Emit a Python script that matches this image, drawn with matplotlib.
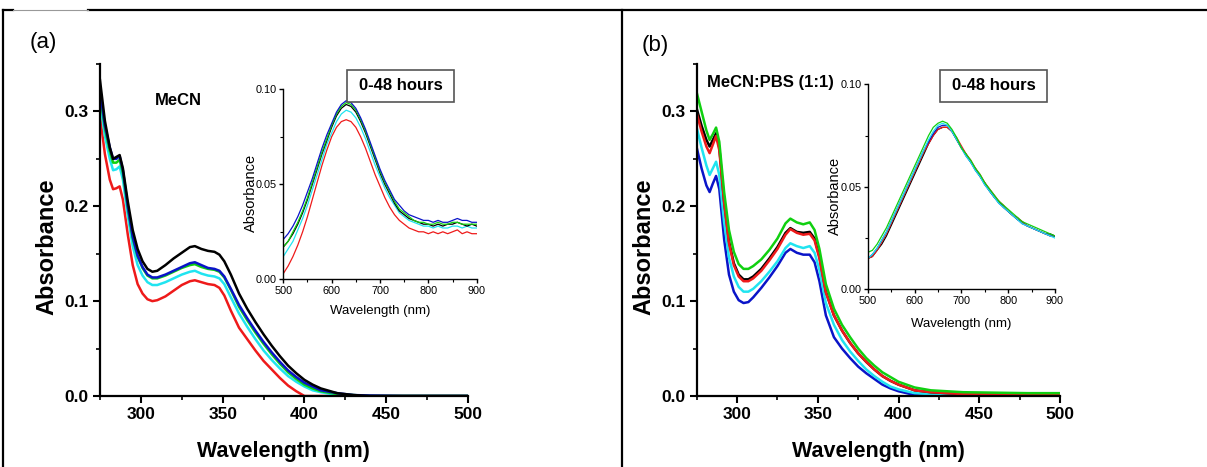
import matplotlib
matplotlib.use('Agg')
import matplotlib.pyplot as plt
from matplotlib.lines import Line2D
from matplotlib.patches import Rectangle
from matplotlib.ticker import MultipleLocator

plt.rcParams['font.family'] = ['Liberation Sans', 'DejaVu Sans']

### main spectra (nm) ###
wl = [275, 278, 281, 283, 285, 287, 289, 292, 295, 298, 301, 304, 307, 310, 315, 320,
      325, 330, 333, 337, 341, 345, 348, 351, 355, 360, 365, 370, 375, 380, 385, 390,
      395, 400, 405, 410, 420, 430, 440, 460, 480, 500]

# (a) MeCN
a_black = [0.333, 0.290, 0.262, 0.250, 0.252, 0.254, 0.240, 0.205, 0.175, 0.155, 0.142, 0.134,
           0.131, 0.132, 0.138, 0.145, 0.151, 0.157, 0.158, 0.155, 0.153, 0.152, 0.149, 0.142,
           0.128, 0.108, 0.092, 0.078, 0.065, 0.053, 0.042, 0.032, 0.024, 0.017, 0.012, 0.008,
           0.003, 0.001, 0.0, 0.0, 0.0, 0.0]
a_blue = [0.322, 0.285, 0.262, 0.250, 0.250, 0.253, 0.238, 0.200, 0.168, 0.148, 0.136, 0.128,
          0.125, 0.125, 0.128, 0.132, 0.136, 0.140, 0.141, 0.138, 0.135, 0.134, 0.132, 0.126,
          0.113, 0.096, 0.082, 0.069, 0.057, 0.046, 0.036, 0.027, 0.020, 0.014, 0.010, 0.006,
          0.003, 0.001, 0.0005, 0.0, 0.0, 0.0]
a_green = [0.318, 0.282, 0.258, 0.246, 0.246, 0.249, 0.235, 0.198, 0.166, 0.147, 0.135, 0.127,
           0.124, 0.124, 0.127, 0.131, 0.135, 0.138, 0.139, 0.136, 0.134, 0.133, 0.131, 0.125,
           0.112, 0.094, 0.080, 0.067, 0.055, 0.044, 0.034, 0.025, 0.018, 0.012, 0.008, 0.005,
           0.002, 0.001, 0.0, 0.0, 0.0, 0.0]
a_cyan = [0.310, 0.274, 0.250, 0.238, 0.239, 0.242, 0.228, 0.190, 0.158, 0.138, 0.127, 0.120,
          0.117, 0.117, 0.120, 0.124, 0.128, 0.131, 0.132, 0.129, 0.127, 0.126, 0.124, 0.118,
          0.104, 0.087, 0.073, 0.060, 0.048, 0.038, 0.029, 0.021, 0.015, 0.010, 0.006, 0.004,
          0.001, 0.0, 0.0, 0.0, 0.0, 0.0]
a_red = [0.295, 0.255, 0.228, 0.218, 0.219, 0.221, 0.207, 0.170, 0.138, 0.118, 0.108, 0.102,
         0.100, 0.101, 0.105, 0.111, 0.117, 0.121, 0.122, 0.120, 0.118, 0.117, 0.114, 0.106,
         0.090, 0.072, 0.060, 0.048, 0.037, 0.028, 0.019, 0.011, 0.005, 0.0, 0.0, 0.0,
         0.0, 0.0, 0.0, 0.0, 0.0, 0.0]

# (b) MeCN:PBS
b_green = [0.320, 0.300, 0.280, 0.270, 0.276, 0.283, 0.268, 0.215, 0.175, 0.152, 0.139, 0.134,
           0.134, 0.137, 0.144, 0.154, 0.166, 0.182, 0.187, 0.183, 0.181, 0.183, 0.175, 0.155,
           0.118, 0.092, 0.075, 0.062, 0.050, 0.040, 0.032, 0.025, 0.020, 0.015, 0.012, 0.009,
           0.006, 0.005, 0.004, 0.0035, 0.003, 0.003]
b_black = [0.303, 0.285, 0.270, 0.263, 0.270, 0.277, 0.262, 0.205, 0.163, 0.140, 0.128, 0.123,
           0.123, 0.126, 0.134, 0.145, 0.157, 0.172, 0.177, 0.173, 0.172, 0.173, 0.166, 0.147,
           0.110, 0.085, 0.069, 0.056, 0.045, 0.036, 0.028, 0.021, 0.016, 0.012, 0.009, 0.006,
           0.004, 0.003, 0.002, 0.002, 0.002, 0.002]
b_red = [0.298, 0.279, 0.263, 0.256, 0.265, 0.274, 0.259, 0.203, 0.161, 0.138, 0.126, 0.121,
         0.121, 0.124, 0.132, 0.143, 0.155, 0.170, 0.176, 0.172, 0.170, 0.171, 0.164, 0.145,
         0.109, 0.085, 0.069, 0.056, 0.045, 0.036, 0.028, 0.021, 0.016, 0.012, 0.009, 0.006,
         0.004, 0.003, 0.002, 0.002, 0.002, 0.002]
b_cyan = [0.283, 0.262, 0.243, 0.233, 0.240, 0.247, 0.233, 0.183, 0.146, 0.126, 0.115, 0.110,
          0.110, 0.113, 0.121, 0.131, 0.142, 0.156, 0.161, 0.158, 0.156, 0.158, 0.151, 0.133,
          0.098, 0.075, 0.059, 0.047, 0.037, 0.028, 0.021, 0.015, 0.010, 0.007, 0.005, 0.003,
          0.002, 0.001, 0.001, 0.001, 0.001, 0.001]
b_blue = [0.262, 0.240, 0.222, 0.215, 0.224, 0.232, 0.218, 0.165, 0.128, 0.110, 0.101, 0.098,
          0.099, 0.104, 0.114, 0.125, 0.137, 0.151, 0.155, 0.151, 0.149, 0.149, 0.141, 0.121,
          0.085, 0.062, 0.050, 0.040, 0.031, 0.024, 0.018, 0.012, 0.008, 0.005, 0.003, 0.001,
          0.0, 0.0, 0.0, 0.0, 0.0, 0.0]

### inset spectra (nm) ###
wl_in = [500, 510, 520, 530, 540, 550, 560, 570, 580, 590, 600, 610, 620, 630, 640, 650, 660,
         670, 680, 690, 700, 710, 720, 730, 740, 750, 760, 770, 780, 790, 800, 810, 820, 830,
         840, 850, 860, 870, 880, 890, 900]

ia_blue = [0.021, 0.024, 0.028, 0.033, 0.039, 0.046, 0.053, 0.061, 0.069, 0.076, 0.082, 0.088,
           0.092, 0.094, 0.093, 0.090, 0.085, 0.079, 0.072, 0.065, 0.058, 0.052, 0.047, 0.042,
           0.039, 0.036, 0.034, 0.033, 0.032, 0.031, 0.031, 0.030, 0.031, 0.030, 0.030, 0.031,
           0.032, 0.031, 0.031, 0.030, 0.030]
ia_green = [0.017, 0.020, 0.025, 0.030, 0.036, 0.043, 0.051, 0.059, 0.067, 0.074, 0.081, 0.087,
            0.091, 0.093, 0.092, 0.089, 0.084, 0.078, 0.071, 0.064, 0.057, 0.051, 0.046, 0.041,
            0.037, 0.035, 0.033, 0.031, 0.030, 0.030, 0.029, 0.029, 0.030, 0.029, 0.029, 0.030,
            0.030, 0.029, 0.029, 0.029, 0.029]
ia_black = [0.017, 0.020, 0.024, 0.029, 0.035, 0.042, 0.050, 0.058, 0.066, 0.073, 0.080, 0.086,
            0.090, 0.092, 0.091, 0.088, 0.083, 0.077, 0.070, 0.063, 0.056, 0.050, 0.045, 0.040,
            0.036, 0.034, 0.032, 0.031, 0.030, 0.029, 0.029, 0.028, 0.029, 0.028, 0.029, 0.029,
            0.030, 0.029, 0.028, 0.029, 0.028]
ia_cyan = [0.012, 0.016, 0.020, 0.026, 0.032, 0.039, 0.047, 0.055, 0.063, 0.071, 0.077, 0.083,
           0.087, 0.089, 0.088, 0.085, 0.080, 0.074, 0.067, 0.060, 0.054, 0.048, 0.043, 0.039,
           0.035, 0.033, 0.031, 0.030, 0.029, 0.028, 0.028, 0.027, 0.028, 0.027, 0.027, 0.028,
           0.028, 0.027, 0.028, 0.027, 0.027]
ia_red = [0.003, 0.007, 0.012, 0.018, 0.025, 0.033, 0.042, 0.051, 0.060, 0.068, 0.075, 0.080,
          0.083, 0.084, 0.083, 0.080, 0.075, 0.069, 0.062, 0.055, 0.049, 0.043, 0.038, 0.034,
          0.031, 0.029, 0.027, 0.026, 0.025, 0.025, 0.024, 0.025, 0.024, 0.025, 0.024, 0.025,
          0.026, 0.024, 0.025, 0.024, 0.024]

ib_green = [0.018, 0.019, 0.022, 0.026, 0.030, 0.035, 0.040, 0.045, 0.050, 0.055, 0.060, 0.065,
            0.070, 0.075, 0.079, 0.081, 0.082, 0.081, 0.078, 0.074, 0.069, 0.066, 0.063, 0.059,
            0.056, 0.052, 0.049, 0.046, 0.043, 0.041, 0.039, 0.037, 0.035, 0.033, 0.032, 0.031,
            0.030, 0.029, 0.028, 0.027, 0.026]
ib_black = [0.015, 0.016, 0.019, 0.022, 0.026, 0.031, 0.036, 0.041, 0.046, 0.051, 0.056, 0.061,
            0.066, 0.071, 0.075, 0.078, 0.079, 0.079, 0.077, 0.073, 0.069, 0.066, 0.062, 0.059,
            0.055, 0.052, 0.048, 0.045, 0.043, 0.040, 0.038, 0.036, 0.034, 0.033, 0.031, 0.030,
            0.029, 0.028, 0.027, 0.027, 0.026]
ib_red = [0.015, 0.016, 0.019, 0.023, 0.027, 0.032, 0.037, 0.042, 0.047, 0.052, 0.057, 0.062,
          0.067, 0.071, 0.075, 0.078, 0.079, 0.079, 0.077, 0.074, 0.070, 0.066, 0.063, 0.059,
          0.056, 0.052, 0.049, 0.046, 0.043, 0.041, 0.038, 0.036, 0.035, 0.033, 0.031, 0.030,
          0.029, 0.028, 0.027, 0.026, 0.026]
ib_cyan = [0.015, 0.017, 0.020, 0.024, 0.028, 0.033, 0.038, 0.043, 0.048, 0.053, 0.058, 0.063,
           0.068, 0.073, 0.077, 0.080, 0.081, 0.080, 0.077, 0.073, 0.069, 0.065, 0.062, 0.058,
           0.055, 0.051, 0.048, 0.045, 0.042, 0.040, 0.038, 0.036, 0.034, 0.032, 0.031, 0.030,
           0.029, 0.028, 0.027, 0.026, 0.025]
ib_blue = [0.015, 0.017, 0.020, 0.024, 0.028, 0.033, 0.038, 0.043, 0.048, 0.053, 0.058, 0.063,
           0.068, 0.072, 0.076, 0.079, 0.080, 0.080, 0.077, 0.073, 0.069, 0.065, 0.062, 0.058,
           0.055, 0.051, 0.048, 0.045, 0.042, 0.040, 0.038, 0.036, 0.034, 0.032, 0.031, 0.030,
           0.029, 0.028, 0.027, 0.026, 0.026]

C_BLACK = '#000000'
C_BLUE = '#0a14c8'
C_GREEN = '#10d010'
C_CYAN = '#20e4f0'
C_RED = '#ee1a1a'

W, H = 1207, 467
fig = plt.figure(figsize=(W / 100, H / 100), dpi=100)


def fx(px):
    return px / W


def fy(py):
    return 1 - py / H


def style_main(ax):
    for s in ['top', 'right']:
        ax.spines[s].set_visible(False)
    for s in ['left', 'bottom']:
        ax.spines[s].set_linewidth(1.6)
    ax.set_xlim(275, 500)
    ax.set_ylim(0, 0.35)
    ax.xaxis.set_major_locator(MultipleLocator(50))
    ax.xaxis.set_minor_locator(MultipleLocator(25))
    ax.yaxis.set_major_locator(MultipleLocator(0.1))
    ax.yaxis.set_minor_locator(MultipleLocator(0.05))
    ax.tick_params(which='major', direction='out', length=5, width=1.5, labelsize=12.5, pad=3)
    ax.tick_params(which='minor', direction='out', length=3, width=1.2)
    ax.set_yticks([0.0, 0.1, 0.2, 0.3])
    ax.set_yticklabels(['0.0', '0.1', '0.2', '0.3'])
    for t in ax.get_xticklabels() + ax.get_yticklabels():
        t.set_fontweight('bold')


def style_inset(ax):
    for s in ['top', 'right']:
        ax.spines[s].set_visible(False)
    for s in ['left', 'bottom']:
        ax.spines[s].set_linewidth(1.0)
    ax.set_xlim(500, 900)
    ax.set_ylim(0, 0.10)
    ax.xaxis.set_major_locator(MultipleLocator(100))
    ax.xaxis.set_minor_locator(MultipleLocator(50))
    ax.set_yticks([0.0, 0.05, 0.10])
    ax.set_yticklabels(['0.00', '0.05', '0.10'])
    ax.yaxis.set_minor_locator(MultipleLocator(0.025))
    ax.tick_params(which='major', direction='out', length=3, width=1.0, labelsize=7.8, pad=1.5)
    ax.tick_params(which='minor', direction='out', length=2, width=0.8)


### panel (a) ###
ax1 = fig.add_axes([fx(100), fy(396), fx(468) - fx(100), fy(64) - fy(396)])
ax1.plot(wl, a_red, color=C_RED, lw=1.8)
ax1.plot(wl, a_cyan, color=C_CYAN, lw=1.8)
ax1.plot(wl, a_green, color=C_GREEN, lw=1.8)
ax1.plot(wl, a_blue, color=C_BLUE, lw=1.8)
ax1.plot(wl, a_black, color=C_BLACK, lw=1.8)
style_main(ax1)

ins1 = fig.add_axes([fx(283.3), fy(279.3), fx(476.7) - fx(283.3), fy(89.3) - fy(279.3)])
ins1.plot(wl_in, ia_red, color=C_RED, lw=0.9)
ins1.plot(wl_in, ia_cyan, color=C_CYAN, lw=0.9)
ins1.plot(wl_in, ia_black, color=C_BLACK, lw=0.9)
ins1.plot(wl_in, ia_green, color=C_GREEN, lw=0.9)
ins1.plot(wl_in, ia_blue, color=C_BLUE, lw=0.9)
style_inset(ins1)

### panel (b) ###
ax2 = fig.add_axes([fx(696.7), fy(396), fx(1060) - fx(696.7), fy(64) - fy(396)])
ax2.plot(wl, b_blue, color=C_BLUE, lw=1.8)
ax2.plot(wl, b_cyan, color=C_CYAN, lw=1.8)
ax2.plot(wl, b_black, color=C_BLACK, lw=1.8)
ax2.plot(wl, b_red, color=C_RED, lw=1.8)
ax2.plot(wl, b_green, color=C_GREEN, lw=1.8)
style_main(ax2)

ins2 = fig.add_axes([fx(867.7), fy(289.3), fx(1055) - fx(867.7), fy(84.3) - fy(289.3)])
ins2.plot(wl_in, ib_black, color=C_BLACK, lw=0.9)
ins2.plot(wl_in, ib_red, color=C_RED, lw=0.9)
ins2.plot(wl_in, ib_blue, color=C_BLUE, lw=0.9)
ins2.plot(wl_in, ib_cyan, color=C_CYAN, lw=0.9)
ins2.plot(wl_in, ib_green, color=C_GREEN, lw=0.9)
style_inset(ins2)

### texts ###
fig.text(fx(43.5), fy(42.5), '(a)', fontsize=16, ha='center', va='center')
fig.text(fx(655), fy(45), '(b)', fontsize=16, ha='center', va='center')
fig.text(fx(178), fy(100), 'MeCN', fontsize=12, fontweight='bold', ha='center', va='center')
fig.text(fx(770), fy(82), 'MeCN:PBS (1:1)', fontsize=12, fontweight='bold', ha='center', va='center')

for x0, x1 in [(347, 454), (940, 1047)]:
    fig.add_artist(Rectangle((fx(x0), fy(102)), fx(x1) - fx(x0), fy(70) - fy(102),
                             transform=fig.transFigure, facecolor='white',
                             edgecolor='#555555', lw=1.2))
    fig.text(fx((x0 + x1) / 2), fy(86), '0-48 hours', fontsize=12, fontweight='bold',
             ha='center', va='center')

fig.text(fx(47), fy(246.5), 'Absorbance', fontsize=17, fontweight='bold', rotation=90,
         ha='center', va='center')
fig.text(fx(643.5), fy(246.5), 'Absorbance', fontsize=17, fontweight='bold', rotation=90,
         ha='center', va='center')
fig.text(fx(283), fy(452), 'Wavelength (nm)', fontsize=15.5, fontweight='bold',
         ha='center', va='center')
fig.text(fx(878), fy(452), 'Wavelength (nm)', fontsize=15.5, fontweight='bold',
         ha='center', va='center')

fig.text(fx(251), fy(193), 'Absorbance', fontsize=10.5, rotation=90, ha='center', va='center')
fig.text(fx(380.5), fy(311), 'Wavelength (nm)', fontsize=9.5, ha='center', va='center')
fig.text(fx(835), fy(196), 'Absorbance', fontsize=10.5, rotation=90, ha='center', va='center')
fig.text(fx(961), fy(324), 'Wavelength (nm)', fontsize=9.5, ha='center', va='center')

### frame lines ###
fig.add_artist(Line2D([fx(88), 1.0], [fy(10), fy(10)], color='black', lw=1.6))
fig.add_artist(Line2D([fx(3), fx(13)], [fy(10), fy(10)], color='black', lw=1.6))
fig.add_artist(Line2D([fx(13), fx(88)], [fy(10), fy(10)], color='#999999', lw=0.8))
fig.add_artist(Line2D([fx(3), fx(3)], [0.0, fy(10)], color='black', lw=1.6))
fig.add_artist(Line2D([fx(622), fx(622)], [0.0, fy(10)], color='black', lw=1.6))

fig.savefig('out.png', dpi=100)
